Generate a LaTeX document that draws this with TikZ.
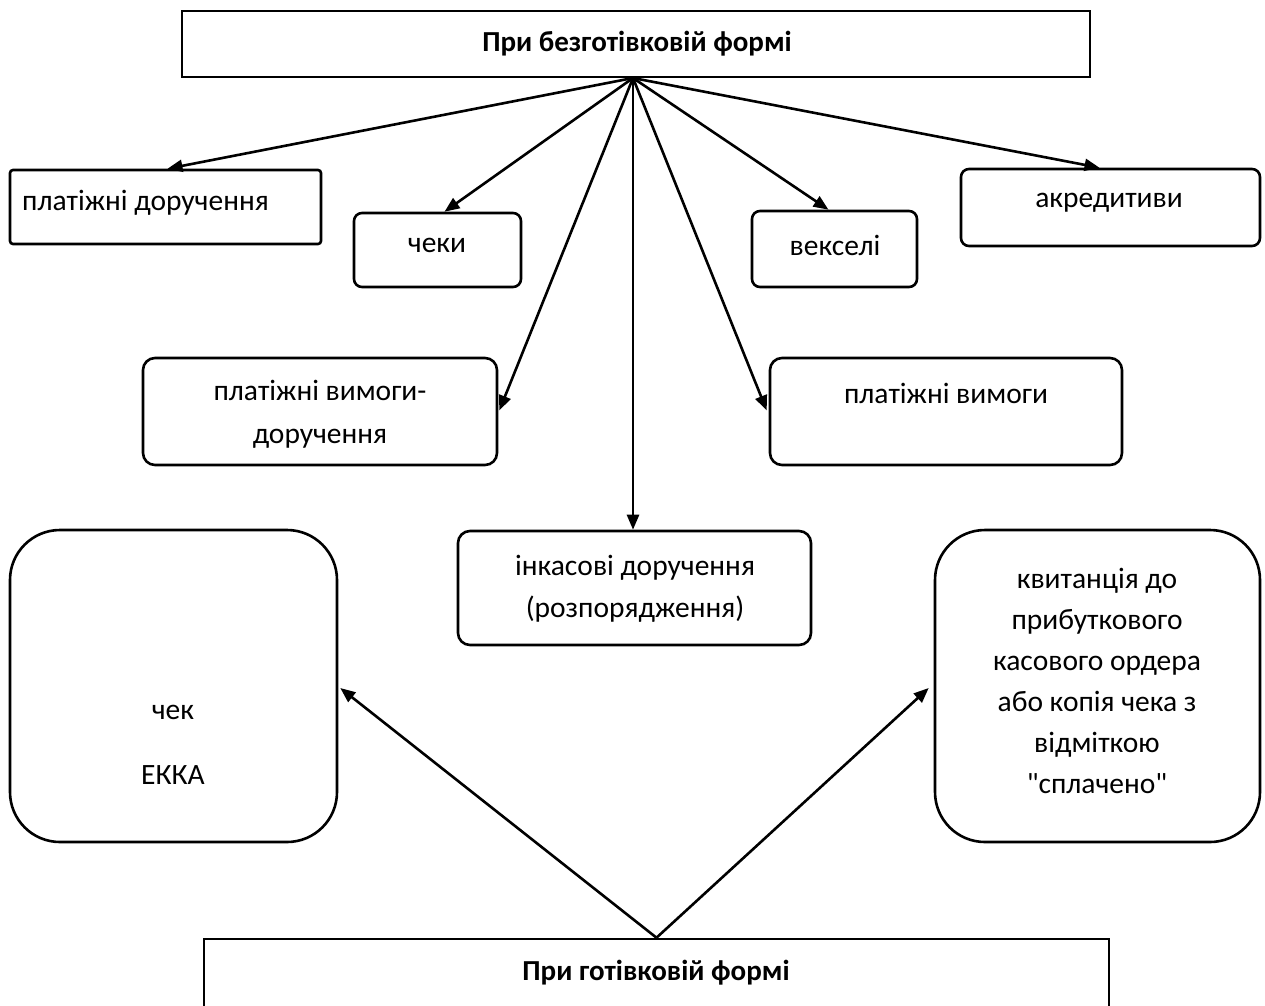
\documentclass[tikz,border=0pt]{standalone}
\usepackage{fontspec}
\setmainfont{Carlito}[Ligatures=TeXOff]
\usetikzlibrary{arrows.meta,calc}
\begin{document}
\begin{tikzpicture}[x=1pt,y=-1pt,
  box/.style={draw=black,line width=2.6pt,inner sep=0pt},
  txt/.style={font=\fontsize{29.5}{40}\selectfont,inner sep=0pt,align=center},
  btxt/.style={font=\fontsize{29}{32}\selectfont\bfseries,inner sep=0pt},
  arr/.style={line width=2.6pt,-{Triangle[length=15pt,width=12pt]}}]
\useasboundingbox[fill=white] (0,0) rectangle (1265,1005);
% boxes
\node[box,minimum width=908pt,minimum height=66pt] (top) at (636,44) {};
\node[box,rounded corners=3pt,minimum width=311pt,minimum height=74pt] (pd) at (165.5,207) {};
\node[box,rounded corners=8pt,minimum width=167pt,minimum height=74pt] (cheky) at (437.5,250) {};
\node[box,rounded corners=8pt,minimum width=165pt,minimum height=76pt] (veks) at (834.5,249) {};
\node[box,rounded corners=8pt,minimum width=299pt,minimum height=77pt] (akr) at (1110.5,207.5) {};
\node[box,rounded corners=12pt,minimum width=354pt,minimum height=107pt] (pvd) at (320,411.5) {};
\node[box,rounded corners=12pt,minimum width=352pt,minimum height=107pt] (pv) at (946,411.5) {};
\node[box,rounded corners=12pt,minimum width=353pt,minimum height=114pt] (ink) at (634.5,588) {};
\node[box,rounded corners=50pt,minimum width=327pt,minimum height=312pt] (chek) at (173.5,686) {};
\node[box,rounded corners=50pt,minimum width=325pt,minimum height=312pt] (kvyt) at (1097.5,686) {};
\node[box,minimum width=905pt,minimum height=90pt] (bot) at (656.5,984) {};
% texts
\node[btxt] (ttop) at (637,44) {При безготівковій формі};
\node[txt,anchor=west] (tpd) at (22,203) {платіжні доручення};
\node[txt] (tcheky) at (437,245) {чеки};
\node[txt] (tveks) at (835,245) {векселі};
\node[txt] (takr) at (1109,203) {акредитиви};
\node[txt,font=\fontsize{29.5}{43}\selectfont] (tpvd) at (320,414) {платіжні вимоги-\\доручення};
\node[txt] (tpv) at (946,393) {платіжні вимоги};
\node[txt,font=\fontsize{29.5}{42}\selectfont] (tink) at (635,589) {інкасові доручення\\(розпорядження)};
\node[txt,font=\fontsize{29.5}{65}\selectfont] (tchek) at (173,745) {чек\\ЕККА};
\node[txt,font=\fontsize{29.5}{41}\selectfont] (tkvyt) at (1097,681) {квитанція до\\прибуткового\\касового ордера\\або копія чека з\\відміткою\\"сплачено"};
\node[btxt] (tbot) at (656,973) {При готівковій формі};
% connectors
\coordinate (apex) at (633,78);
\draw[arr] (apex) -- ($(pd.north)+(2,0)$);
\draw[arr] (apex) -- ($(cheky.north)+(7,0)$);
\draw[arr] (apex) -- ($(veks.north)+(-6,0)$);
\draw[arr] (apex) -- ($(akr.north)+(-11,0)$);
\draw[arr] (apex) -- ($(pvd.east)+(1,-1)$);
\draw[arr] (apex) -- ($(pv.west)+(-2,-1)$);
\draw[arr] (apex) -- (apex |- ink.north);
\draw[arr] (bot.north) -- ($(chek.east)+(2,2)$);
\draw[arr] (bot.north) -- ($(kvyt.west)+(-5,2)$);
\end{tikzpicture}
\end{document}
